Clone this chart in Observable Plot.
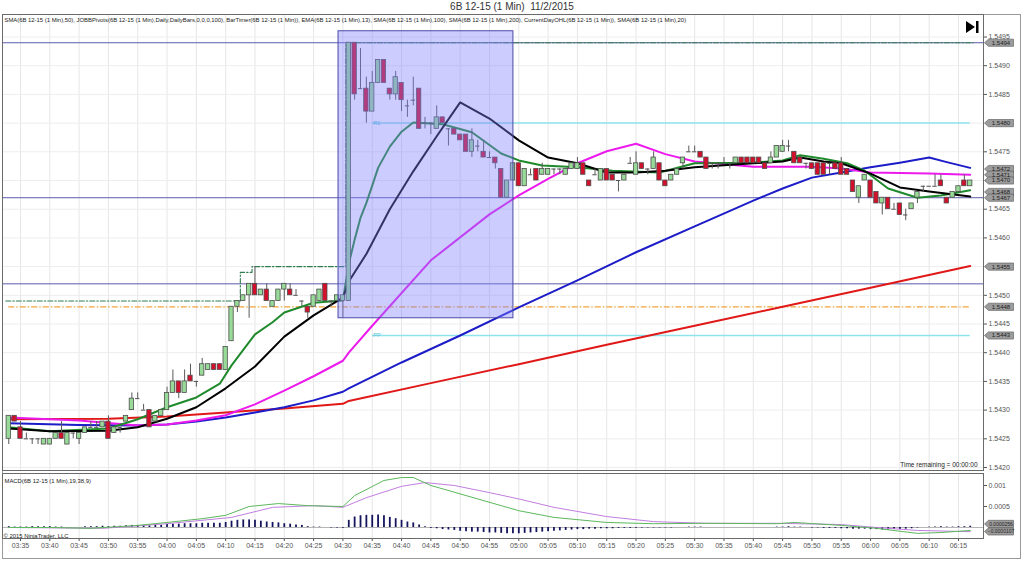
<!DOCTYPE html>
<html><head><meta charset="utf-8">
<script src="https://cdn.jsdelivr.net/npm/d3@7"></script>
<script src="https://cdn.jsdelivr.net/npm/@observablehq/plot@0.6"></script>
<style>
body{margin:0;background:#fff;width:1024px;height:563px;overflow:hidden;font-family:"Liberation Sans",Arial,sans-serif}
#wrap{position:relative;width:1024px;height:563px}
#title{position:absolute;left:0;top:1px;width:1024px;text-align:center;font-size:10px;color:#333;line-height:12px;white-space:pre}
#outer{position:absolute;left:2px;top:14px;width:1019px;height:545px;border:1px solid #9a9a9a;box-sizing:border-box}
#main{position:absolute;left:0;top:0}
#macd{position:absolute;left:0;top:471px}
#icon{position:absolute;left:966px;top:21px}
</style></head><body>
<div id="wrap">
<div id="outer"></div>
<div id="title">6B 12-15 (1 Min)  11/2/2015</div>
<div id="main"></div><div id="macd"></div>
<svg id="icon" width="14" height="13"><polygon points="0,0 9,6 0,12" fill="#000"/><rect x="10" y="0" width="2.5" height="12" fill="#000"/></svg>
</div>
<script>
// ---------- DATA ----------
const firstBar = "03:33";           // 1-minute bars, consecutive
const viewStart = "03:31:56", viewEnd = "06:19:16";
const barOpen = [1.5425,1.5429,1.5427,1.5425,1.5425,1.5425,1.5424,1.5424,1.5425,1.5426,1.5424,1.5426,1.5425,1.5426,1.5427,1.5427,1.5427,1.5428,1.5426,1.5427,1.5428,1.5430,1.5432,1.5430,1.5430,1.5428,1.5429,
1.5430,1.5433,1.5435,1.5433,1.5436,1.5435,1.5436,1.5437,1.5438,1.5438,
1.5437,1.5442,1.5448,1.5449,1.5450,1.5452,1.5450,1.5451,1.5448,1.5449,
1.5451,1.5451,1.5450,1.5449,1.5448,1.5448,1.5449,1.5452,1.5449,1.5449,
1.5449,1.5449,1.5494,1.5486,1.5486,1.5482,1.5487,1.5491,1.5486,1.5485,
1.5487,1.5483,1.5484,1.5486,1.5480,1.5480,1.5479,1.5481,1.5479,1.5479,
1.5478,1.5478,1.5475,1.5476,1.5475,1.5474,1.5474,1.5472,1.5467,1.5470,
1.5473,1.5469,1.5471,1.5472,1.5471,1.5471,1.5472,1.5472,1.5471,1.5472,
1.5472,1.5473,1.5470,1.5471,1.5470,1.5472,1.5471,1.5470,1.5470,1.5473,
1.5471,1.5473,1.5472,1.5472,1.5473,1.5470,1.5470,1.5471,1.5473,1.5475,
1.5475,1.5475,1.5474,1.5473,1.5473,1.5473,1.5473,1.5473,1.5474,1.5474,
1.5474,1.5474,1.5473,1.5473,1.5474,1.5475,1.5476,1.5475,1.5474,1.5473,
1.5473,1.5473,1.5473,1.5473,1.5473,1.5473,1.5472,1.5470,1.5467,1.5470,
1.5470,1.5468,1.5466,1.5467,1.5465,1.5466,1.5464,1.5465,1.5467,1.5469,
1.5469,1.5469,1.5470,1.5467,1.5467,1.5468,1.5470,1.5469];
const barHigh = [1.5429,1.5429,1.5428,1.5426,1.5425,1.5425,1.5425,1.5425,1.5426,1.5428,1.5426,1.5426,1.5426,1.5427,1.5428,1.5428,1.5428,1.5429,1.5427,1.5427,1.5429,1.5433,1.5433,1.5431,1.5430,1.5429,1.5430,
1.5434,1.5437,1.5435,1.5437,1.5438,1.5435,1.5439,1.5438,1.5438,1.5438,
1.5441,1.5448,1.5449,1.5450,1.5452,1.5455,1.5451,1.5452,1.5449,1.5451,
1.5452,1.5452,1.5451,1.5449,1.5448,1.5450,1.5451,1.5452,1.5449,1.5450,
1.5450,1.5494,1.5494,1.5493,1.5488,1.5489,1.5491,1.5491,1.5486,1.5489,
1.5487,1.5484,1.5488,1.5486,1.5481,1.5480,1.5483,1.5481,1.5479,1.5479,
1.5478,1.5478,1.5479,1.5477,1.5477,1.5475,1.5474,1.5472,1.5470,1.5473,
1.5473,1.5472,1.5472,1.5472,1.5473,1.5472,1.5472,1.5472,1.5472,1.5473,
1.5474,1.5473,1.5470,1.5472,1.5472,1.5472,1.5471,1.5470,1.5471,1.5474,
1.5475,1.5473,1.5472,1.5475,1.5473,1.5470,1.5471,1.5472,1.5474,1.5476,
1.5476,1.5475,1.5474,1.5473,1.5473,1.5474,1.5473,1.5474,1.5474,1.5474,
1.5474,1.5474,1.5473,1.5475,1.5476,1.5477,1.5477,1.5475,1.5474,1.5473,
1.5473,1.5473,1.5473,1.5473,1.5473,1.5474,1.5472,1.5470,1.5469,1.5471,
1.5470,1.5468,1.5467,1.5467,1.5466,1.5466,1.5465,1.5466,1.5468,1.5469,
1.5469,1.5471,1.5471,1.5467,1.5468,1.5469,1.5471,1.5470];
const barLow = [1.5424,1.5428,1.5425,1.5425,1.5424,1.5424,1.5424,1.5424,1.5425,1.5425,1.5424,1.5425,1.5424,1.5426,1.5427,1.5427,1.5427,1.5425,1.5426,1.5426,1.5428,1.5430,1.5432,1.5430,1.5427,1.5428,1.5429,
1.5430,1.5433,1.5432,1.5433,1.5435,1.5434,1.5436,1.5437,1.5437,1.5437,
1.5437,1.5442,1.5447,1.5449,1.5446,1.5450,1.5450,1.5449,1.5448,1.5449,
1.5449,1.5450,1.5450,1.5448,1.5446,1.5448,1.5449,1.5449,1.5448,1.5449,
1.5446,1.5449,1.5484,1.5486,1.5480,1.5482,1.5487,1.5487,1.5484,1.5484,
1.5482,1.5481,1.5483,1.5479,1.5479,1.5478,1.5479,1.5480,1.5476,1.5478,
1.5477,1.5475,1.5474,1.5475,1.5474,1.5474,1.5472,1.5467,1.5467,1.5470,
1.5469,1.5469,1.5471,1.5470,1.5471,1.5471,1.5471,1.5471,1.5471,1.5472,
1.5472,1.5471,1.5469,1.5471,1.5470,1.5470,1.5470,1.5468,1.5470,1.5473,
1.5471,1.5472,1.5471,1.5472,1.5470,1.5469,1.5470,1.5471,1.5472,1.5475,
1.5475,1.5474,1.5472,1.5472,1.5472,1.5473,1.5472,1.5473,1.5473,1.5473,
1.5473,1.5473,1.5472,1.5473,1.5474,1.5475,1.5475,1.5473,1.5473,1.5472,
1.5472,1.5471,1.5471,1.5471,1.5472,1.5471,1.5471,1.5468,1.5466,1.5470,
1.5467,1.5466,1.5464,1.5465,1.5465,1.5464,1.5463,1.5465,1.5466,1.5468,
1.5469,1.5469,1.5469,1.5466,1.5467,1.5468,1.5469,1.5469];
const barClose = [1.5429,1.5428,1.5425,1.5425,1.5425,1.5425,1.5425,1.5425,1.5426,1.5425,1.5426,1.5426,1.5426,1.5427,1.5427,1.5427,1.5428,1.5425,1.5427,1.5427,1.5429,1.5432,1.5432,1.5430,1.5427,1.5429,1.5430,
1.5433,1.5435,1.5433,1.5435,1.5435,1.5435,1.5438,1.5438,1.5437,1.5437,
1.5441,1.5448,1.5449,1.5450,1.5452,1.5450,1.5451,1.5449,1.5449,1.5451,
1.5452,1.5450,1.5450,1.5449,1.5447,1.5450,1.5451,1.5449,1.5449,1.5450,
1.5450,1.5494,1.5485,1.5486,1.5482,1.5487,1.5491,1.5487,1.5485,1.5488,
1.5484,1.5483,1.5484,1.5479,1.5480,1.5480,1.5481,1.5480,1.5479,1.5478,
1.5477,1.5475,1.5477,1.5476,1.5474,1.5474,1.5473,1.5467,1.5470,1.5473,
1.5469,1.5472,1.5471,1.5470,1.5472,1.5472,1.5472,1.5472,1.5472,1.5473,
1.5473,1.5471,1.5469,1.5471,1.5472,1.5470,1.5470,1.5470,1.5471,1.5473,
1.5473,1.5472,1.5472,1.5474,1.5470,1.5469,1.5471,1.5472,1.5474,1.5475,
1.5475,1.5474,1.5472,1.5473,1.5473,1.5473,1.5473,1.5474,1.5473,1.5473,
1.5473,1.5473,1.5472,1.5474,1.5476,1.5476,1.5476,1.5473,1.5473,1.5473,
1.5472,1.5471,1.5471,1.5473,1.5472,1.5471,1.5471,1.5468,1.5469,1.5471,
1.5467,1.5466,1.5467,1.5465,1.5465,1.5464,1.5464,1.5466,1.5468,1.5469,
1.5469,1.5469,1.5469,1.5466,1.5468,1.5469,1.5469,1.5470];

// moving averages read at sample times
const sma200Times = ["03:33","03:50","04:00","04:10","04:20","04:30","04:31","04:45","05:00","05:15","05:30","05:45","06:00","06:17"];
const sma200Vals  = [1.54284,1.54285,1.54289,1.54296,1.54303,1.54311,1.54316,1.54347,1.54380,1.54414,1.54447,1.54480,1.54513,1.54551];
const sma100Times = ["03:33","03:45","03:55","04:00","04:05","04:10","04:15","04:20","04:25","04:30","04:31","04:40","04:50","05:00","05:10","05:20","05:30","05:40","05:45","05:50","05:55","06:00","06:05","06:10","06:13","06:17"];
const sma100Vals  = [1.54277,1.54274,1.54273,1.54275,1.54280,1.54287,1.54296,1.54305,1.54317,1.54332,1.54338,1.54383,1.54430,1.54479,1.54526,1.54575,1.54620,1.54665,1.54686,1.54705,1.54714,1.54723,1.54731,1.54740,1.54732,1.54722];
const sma50Times  = ["03:33","03:45","03:55","04:00","04:05","04:10","04:15","04:20","04:25","04:30","04:31","04:35","04:45","04:55","05:00","05:05","05:10","05:15","05:20","05:25","05:30","05:40","05:50","05:55","06:00","06:10","06:17"];
const sma50Vals   = [1.54287,1.54282,1.54273,1.54275,1.54282,1.54291,1.54310,1.54334,1.54359,1.54386,1.54400,1.54447,1.54561,1.54641,1.54674,1.54703,1.54730,1.54751,1.54764,1.54746,1.54733,1.54724,1.54724,1.54721,1.54714,1.54712,1.54710];
const sma20Times  = ["03:33","03:40","03:50","03:55","04:00","04:05","04:10","04:15","04:20","04:25","04:30","04:31","04:34","04:38","04:42","04:46","04:50","04:55","05:00","05:05","05:10","05:15","05:20","05:25","05:30","05:40","05:45","05:48","05:52","05:55","06:00","06:05","06:10","06:17"];
const sma20Vals   = [1.54268,1.54263,1.54264,1.54270,1.54285,1.54305,1.54338,1.54376,1.54428,1.54465,1.54496,1.54524,1.54572,1.54650,1.54716,1.54777,1.54836,1.54808,1.54770,1.54740,1.54730,1.54714,1.54714,1.54717,1.54723,1.54730,1.54733,1.54740,1.54733,1.54730,1.54712,1.54688,1.54681,1.54672];
const ema13Times  = ["03:33","03:40","03:50","03:55","04:00","04:05","04:09","04:11","04:15","04:18","04:20","04:25","04:30","04:31","04:32","04:33","04:34","04:35","04:36","04:38","04:40","04:42","04:47","04:52","04:57","05:00","05:04","05:10","05:16","05:24","05:30","05:40","05:45","05:48","05:52","05:56","05:59","06:03","06:08","06:12","06:17"];
const ema13Vals   = [1.54270,1.54263,1.54268,1.54284,1.54305,1.54322,1.54346,1.54378,1.54432,1.54453,1.54470,1.54487,1.54491,1.54555,1.54597,1.54635,1.54661,1.54691,1.54722,1.54759,1.54785,1.54801,1.54798,1.54784,1.54747,1.54735,1.54726,1.54723,1.54717,1.54714,1.54730,1.54731,1.54735,1.54744,1.54738,1.54730,1.54717,1.54686,1.54670,1.54674,1.54683];

// levels
const levelLines = [1.5494, 1.5467, 1.5452];
const pivotNames = ["R1","PP"], pivotVals = [1.5480, 1.5443], pivotStart = "04:35", pivotEnd = "06:17";
const dayOpen = 1.5448, dayOpenStart = "03:33", dayOpenEnd = "06:17";
const dayHighTimes = ["03:32:30","04:12:30","04:14:30","04:30:30","06:17:30"];
const dayHighVals  = [1.5449,1.5454,1.5455,1.5494,1.5494];
const boxStart = "04:29:15", boxEnd = "04:59:05", boxLow = 1.5446, boxHigh = 1.5496;
const priceTags = [1.5494,1.5480,1.5472,1.5471,1.5470,1.5468,1.5467,1.5455,1.5448,1.5443];
const priceTicks = [1.5420,1.5425,1.5430,1.5435,1.5440,1.5445,1.5450,1.5455,1.5460,1.5465,1.5470,1.5475,1.5480,1.5485,1.5490,1.5495];
const timeTicks = ["03:35","03:40","03:45","03:50","03:55","04:00","04:05","04:10","04:15","04:20","04:25","04:30","04:35","04:40","04:45","04:50","04:55","05:00","05:05","05:10","05:15","05:20","05:25","05:30","05:35","05:40","05:45","05:50","05:55","06:00","06:05","06:10","06:15"];

// MACD(19,38,9)
const macdTimes = ["03:33","03:40","03:47","03:55","04:00","04:06","04:10","04:14","04:19","04:24","04:30","04:32","04:37","04:40","04:42","04:45","04:51","04:57","05:00","05:06","05:15","05:23","05:32","05:44","05:47","05:55","06:01","06:08","06:12","06:17"];
const macdVals  = [0.00000,0.00000,-0.00002,0.00005,0.00012,0.00021,0.00029,0.00050,0.00057,0.00052,0.00050,0.00076,0.00112,0.00119,0.00119,0.00100,0.00076,0.00052,0.00040,0.00024,0.00012,0.00009,0.00010,0.00009,0.00012,0.00005,-0.00002,-0.00014,-0.00012,-0.00007];
const signalTimes = ["03:33","03:49","04:00","04:11","04:18","04:25","04:30","04:34","04:40","04:44","04:49","04:55","05:00","05:06","05:15","05:23","05:32","05:44","05:55","06:01","06:08","06:17"];
const signalVals  = [0,-0.00002,0.00009,0.00024,0.00048,0.00052,0.00048,0.00071,0.00098,0.00107,0.00100,0.00083,0.00068,0.00048,0.00026,0.00014,0.00010,0.00010,0.00007,0.00000,-0.00007,-0.00010];
const macdDiff = [0.00002,0.00001,0.00001,0.00001,0.00002,0.00002,0.00002,
0.00002,0.00001,0.00001,0,0,0,0.00002,0.00002,0.00002,0.00003,
0.00002,0.00003,0.00003,0.00004,0.00005,0.00005,0.00005,0.00004,0.00005,0.00005,
0.00007,0.00008,0.00008,0.00009,0.00009,0.00009,0.00010,0.00010,0.00010,0.00010,
0.00012,0.00015,0.00017,0.00018,0.00018,0.00017,0.00015,0.00013,0.00012,0.00011,
0.00009,0.00008,0.00006,0.00005,0.00002,0.00001,0.00001,0,-0.00001,-0.00001,
-0.00002,0.00017,0.00025,0.00028,0.00029,0.00029,0.00030,0.00028,0.00024,0.00021,
0.00017,0.00013,0.00011,0.00006,0.00002,-0.00002,-0.00003,-0.00005,-0.00006,-0.00007,
-0.00009,-0.00010,-0.00011,-0.00011,-0.00012,-0.00013,-0.00013,-0.00014,-0.00015,-0.00015,
-0.00015,-0.00014,-0.00013,-0.00012,-0.00011,-0.00010,-0.00009,-0.00008,-0.00007,-0.00006,
-0.00005,-0.00005,-0.00004,-0.00004,-0.00003,-0.00003,-0.00003,-0.00002,-0.00002,-0.00002,
-0.00002,-0.00001,-0.00001,-0.00001,-0.00001,-0.00001,-0.00001,0,0,0.00001,
0.00001,0.00001,0,0,0,0,0,0,0,0,
0,0,0,0,0.00001,0.00001,0.00002,0.00001,0.00001,0,
-0.00001,-0.00001,-0.00002,-0.00002,-0.00002,-0.00003,-0.00003,-0.00004,-0.00004,-0.00004,
-0.00005,-0.00005,-0.00006,-0.00006,-0.00005,-0.00005,-0.00004,-0.00003,-0.00001,0,
0.00001,0.00001,0.00002,0.00001,0.00001,0.00002,0.00002,0.00003];
const macdTagUpper = 0.0000256, macdTagLower = -0.0000107;

const indicatorLabel = "SMA(6B 12-15 (1 Min),50), JOBBPivots(6B 12-15 (1 Min),Daily,DailyBars,0,0,0,100), BarTimer(6B 12-15 (1 Min)), EMA(6B 12-15 (1 Min),13), SMA(6B 12-15 (1 Min),100), SMA(6B 12-15 (1 Min),200), CurrentDayOHL(6B 12-15 (1 Min)), SMA(6B 12-15 (1 Min),20)";
const timerLabel = "Time remaining = 00:00:00";
const macdLabel = "MACD(6B 12-15 (1 Min),19,38,9)";
const copyright = "© 2015 NinjaTrader, LLC";

// ---------- BUILD ----------
const parseT = s => { const p = s.split(":").map(Number); return p[0]*60 + p[1] + (p[2]||0)/60; };
const fmtT = m => String(Math.floor(m/60)).padStart(2,"0") + ":" + String(Math.round(m%60)).padStart(2,"0");
const t0 = parseT(firstBar);
const bars = barOpen.map((o,i)=>({t:t0+i, o, h:barHigh[i], l:barLow[i], c:barClose[i], d:macdDiff[i] ?? 0}));
const series = (times, vals) => times.map((s,i)=>({t:parseT(s), v:vals[i]}));
const xDomain = [parseT(viewStart), parseT(viewEnd)];
const tTicks = timeTicks.map(parseT);
// tick labels covered by a value tag are hidden, as in the original
const axisTicks = priceTicks.filter(p => !priceTags.some(t => Math.abs(t - p) < 0.00006));
const HW = 0.37;
const font = "'Liberation Sans', Arial, sans-serif";
const tagSymbol = {draw(ctx){ ctx.moveTo(1,0); ctx.lineTo(5,-3.6); ctx.lineTo(30,-3.6); ctx.lineTo(30,3.6); ctx.lineTo(5,3.6); ctx.closePath(); }};
const pivots = pivotNames.map((n,i)=>({name:n, v:pivotVals[i], x1:parseT(pivotStart), x2:parseT(pivotEnd)}));
const maLine = (times, vals, color) => Plot.line(series(times, vals), {x:"t", y:"v", stroke:color, strokeWidth:2, curve:"linear"});

const main = Plot.plot({
  width:1024, height:471, marginTop:14, marginBottom:1, marginLeft:2, marginRight:41,
  style:{fontFamily:font, fontSize:"7px", color:"#555", background:"transparent", overflow:"visible"},
  x:{domain:xDomain, axis:null},
  y:{domain:[1.541948,1.549892], axis:"right", ticks:axisTicks, tickFormat:d3.format(".4f"), tickSize:3, tickPadding:2, label:null},
  marks:[
    Plot.ruleX(tTicks, {stroke:"#e6e6e6"}),
    Plot.ruleY(priceTicks, {stroke:"#ededed"}),
    Plot.ruleY(levelLines, {stroke:"#5c5cab", strokeWidth:1}),
    Plot.ruleY(pivots, {y:"v", x1:"x1", x2:"x2", stroke:"#8ee3ec", strokeWidth:1.5}),
    Plot.text(pivots, {x:"x1", y:"v", text:"name", fill:"#55c4d6", fontSize:5.5, textAnchor:"start", dx:1}),
    Plot.ruleY([dayOpen], {x1:()=>parseT(dayOpenStart), x2:()=>parseT(dayOpenEnd), stroke:"#f2a33a", strokeWidth:1.2, strokeDasharray:"6,2,1.5,2"}),
    Plot.line(series(dayHighTimes, dayHighVals), {x:"t", y:"v", curve:"step-after", stroke:"#2e7d50", strokeWidth:1.1, strokeDasharray:"5,2,1.5,2"}),
    maLine(sma200Times, sma200Vals, "#e01818"),
    maLine(sma100Times, sma100Vals, "#1c1cc8"),
    maLine(sma50Times, sma50Vals, "#ec1aec"),
    maLine(ema13Times, ema13Vals, "#1f8a2c"),
    maLine(sma20Times, sma20Vals, "#000000"),
    Plot.ruleX(bars, {x:"t", y1:"l", y2:"h", stroke:"#5a5a5a", strokeWidth:1}),
    Plot.rect(bars.filter(d=>d.c!==d.o), {x1:d=>d.t-HW, x2:d=>d.t+HW, y1:"o", y2:"c",
      fill:d=>d.c>d.o?"#98da98":"#d3102c", stroke:"#4e4e4e", strokeWidth:0.8}),
    Plot.ruleY(bars.filter(d=>d.c===d.o), {y:"c", x1:d=>d.t-HW, x2:d=>d.t+HW, stroke:"#4e4e4e", strokeWidth:1}),
    Plot.rect([{x1:parseT(boxStart), x2:parseT(boxEnd), y1:boxLow, y2:boxHigh}], {x1:"x1", x2:"x2", y1:"y1", y2:"y2", fill:"#8080ff", fillOpacity:0.4, stroke:"#4a4aa6", strokeWidth:1}),
    Plot.frame({stroke:"#6a6a6a"}),
    Plot.text([indicatorLabel], {frameAnchor:"top-left", text:d=>d, dx:2, dy:3, fontSize:5.9, fill:"#222"}),
    Plot.text([timerLabel], {frameAnchor:"bottom-right", text:d=>d, dx:-6, dy:-4, fontSize:6.5, fill:"#222"}),
    Plot.dot(priceTags, {x:()=>xDomain[1], y:d=>d, symbol:tagSymbol, fill:"#9c9c9c", stroke:"#555", strokeWidth:0.6}),
    Plot.text(priceTags, {x:()=>xDomain[1], y:d=>d, text:d=>d3.format(".4f")(d), dx:17.5, fontSize:6, fill:"#1c1c1c"})
  ]
});
document.getElementById("main").append(main);

const tagAt = (v, shift) => [
  Plot.dot([v], {x:()=>xDomain[1], y:d=>d, dy:shift, symbol:tagSymbol, fill:"#9c9c9c", stroke:"#555", strokeWidth:0.6}),
  Plot.text([v], {x:()=>xDomain[1], y:d=>d, dy:shift, text:d=>d3.format(".7f")(d), dx:17.5, fontSize:5, fill:"#1c1c1c"})
];

const macd = Plot.plot({
  width:1024, height:89, marginTop:2, marginBottom:22, marginLeft:2, marginRight:41,
  style:{fontFamily:font, fontSize:"7px", color:"#555", background:"transparent", overflow:"visible"},
  x:{domain:xDomain, ticks:tTicks, tickFormat:fmtT, tickSize:3, tickPadding:2, label:null},
  y:{domain:[-0.000262,0.0012857], axis:"right", ticks:[0.0005,0.001], tickFormat:d3.format("~g"), tickSize:3, tickPadding:2, label:null},
  marks:[
    Plot.ruleX(tTicks, {stroke:"#e6e6e6"}),
    Plot.ruleY([0], {stroke:"#b5b5b5"}),
    Plot.ruleX(bars, {x:"t", y1:0, y2:"d", stroke:"#15155e", strokeWidth:1.8}),
    Plot.line(series(signalTimes, signalVals), {x:"t", y:"v", stroke:"#c27ee0", strokeWidth:1}),
    Plot.line(series(macdTimes, macdVals), {x:"t", y:"v", stroke:"#5cb85c", strokeWidth:1}),
    Plot.frame({stroke:"#6a6a6a"}),
    Plot.text([macdLabel], {frameAnchor:"top-left", text:d=>d, dx:2, dy:5, fontSize:5.9, fill:"#222"}),
    Plot.text([copyright], {frameAnchor:"bottom-left", text:d=>d, dx:1, dy:-1, fontSize:5.9, fill:"#222"}),
    ...tagAt(macdTagUpper, -2.5),
    ...tagAt(macdTagLower, 3.5)
  ]
});
document.getElementById("macd").append(macd);
</script>
</body></html>
